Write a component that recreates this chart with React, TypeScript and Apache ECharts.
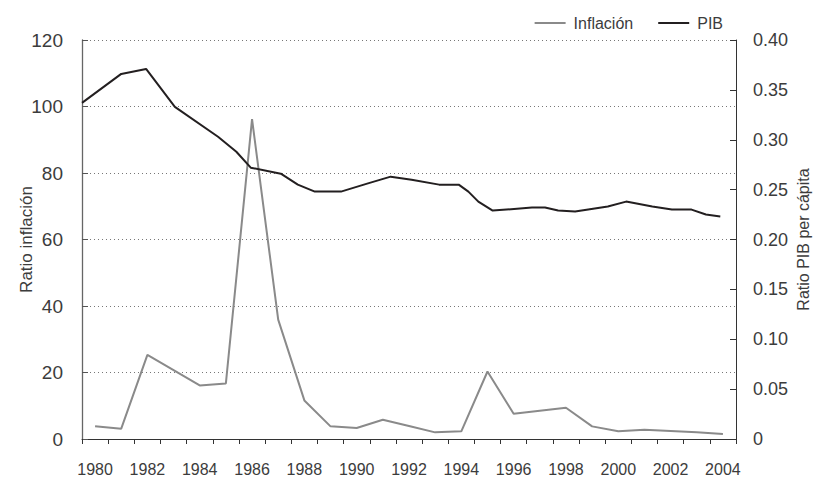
import React, { useEffect, useRef } from "react";
import * as echarts from "echarts";

const years: string[] = [
  "1980","1981","1982","1983","1984","1985","1986","1987","1988","1989",
  "1990","1991","1992","1993","1994","1995","1996","1997","1998","1999",
  "2000","2001","2002","2003","2004",
];

const inflacion: number[] = [
  3.8, 3.1, 25.3, 20.7, 16.1, 16.7, 96.2, 35.9, 11.6, 3.8,
  3.3, 5.8, 3.9, 2.0, 2.3, 20.3, 7.6, 8.5, 9.4, 3.8,
  2.3, 2.8, 2.4, 2.0, 1.5,
];

const pibYears: number[] = [
  1979.5, 1981.0, 1981.95, 1983.05, 1984.7, 1985.4, 1985.95, 1987.1, 1987.75, 1988.4,
  1989.4, 1990.4, 1991.3, 1992.1, 1993.15, 1993.9, 1994.27, 1994.65, 1995.2, 1996.7,
  1997.2, 1997.7, 1998.35, 1999.6, 2000.3, 2001.3, 2002.05, 2002.8, 2003.35, 2003.9,
];

const pib: number[] = [
  0.337, 0.366, 0.371, 0.333, 0.303, 0.288, 0.272, 0.266, 0.255, 0.248,
  0.248, 0.256, 0.263, 0.260, 0.255, 0.255, 0.248, 0.238, 0.229, 0.232,
  0.232, 0.229, 0.228, 0.233, 0.238, 0.233, 0.230, 0.230, 0.225, 0.223,
];

const leftTicks = { min: 0, max: 120, interval: 20 };
const rightTicks = { min: 0, max: 0.4, interval: 0.05 };

const FONT = "'Liberation Sans', Arial, sans-serif";
const NARROW = "'Liberation Sans Narrow', 'Liberation Sans', sans-serif";
const TXT = "#3c3c3c";

export default function App() {
  const ref = useRef<HTMLDivElement>(null);
  useEffect(() => {
    if (!ref.current) return;
    const chart = echarts.init(ref.current, undefined, { renderer: "svg" });
    chart.setOption({
      animation: false,
      backgroundColor: "#ffffff",
      textStyle: { fontFamily: FONT },
      legend: {
        top: 10,
        right: 93,
        icon: "rect",
        itemWidth: 31,
        itemHeight: 2,
        itemGap: 25,
        textStyle: { fontSize: 16, color: TXT, fontFamily: FONT, padding: [0, 0, 0, 3] },
        data: ["Inflación", "PIB"],
      },
      grid: { left: 82, right: 85, top: 40, bottom: 40, outerBoundsMode: "none", containLabel: false },
      xAxis: [
        {
          type: "category",
          data: years,
          boundaryGap: true,
          axisLine: { lineStyle: { color: "#333", width: 1 } },
          axisTick: { show: true, inside: false, length: 5, interval: 0, lineStyle: { color: "#333" } },
          axisLabel: { interval: 1, margin: 22, fontSize: 16, color: TXT, fontFamily: FONT },
          splitLine: { show: false },
        },
        {
          type: "value",
          min: 1979.5,
          max: 2004.5,
          show: false,
          splitLine: { show: false },
        },
      ],
      yAxis: [
        {
          type: "value",
          ...leftTicks,
          name: "Ratio inflación",
          nameLocation: "middle",
          nameRotate: 90,
          nameGap: 47,
          nameMoveOverlap: false,
          nameTextStyle: { fontSize: 17, color: TXT, fontFamily: FONT },
          axisLine: { show: true, lineStyle: { color: "#666", width: 1.3 } },
          axisTick: { show: true, inside: true, length: 6, lineStyle: { color: "#555" } },
          axisLabel: { margin: 19, fontSize: 19, color: TXT, fontFamily: NARROW },
          splitLine: { show: true, lineStyle: { type: [1, 3], color: "#777", width: 1 } },
        },
        {
          type: "value",
          ...rightTicks,
          position: "right",
          name: "Ratio PIB per cápita",
          nameLocation: "middle",
          nameRotate: 90,
          nameGap: 59,
          nameMoveOverlap: false,
          nameTextStyle: { fontSize: 16, color: TXT, fontFamily: FONT },
          axisLine: { show: true, lineStyle: { color: "#333", width: 1 } },
          axisTick: { show: true, inside: true, length: 6, lineStyle: { color: "#333" } },
          axisLabel: {
            margin: 17,
            fontSize: 18,
            color: TXT,
            fontFamily: FONT,
            formatter: (v: number) => (v === 0 ? "0" : v.toFixed(2)),
          },
          splitLine: { show: false },
        },
      ],
      series: [
        {
          name: "Inflación",
          type: "line",
          xAxisIndex: 0,
          yAxisIndex: 0,
          data: inflacion,
          symbol: "none",
          lineStyle: { color: "#8a8a8a", width: 2 },
          itemStyle: { color: "#8a8a8a" },
        },
        {
          name: "PIB",
          type: "line",
          xAxisIndex: 1,
          yAxisIndex: 1,
          data: pibYears.map((y, i) => [y, pib[i]]),
          symbol: "none",
          lineStyle: { color: "#231f20", width: 2 },
          itemStyle: { color: "#231f20" },
        },
      ],
    });
    return () => chart.dispose();
  }, []);
  return (
    <div
      ref={ref}
      style={{ position: "fixed", left: 0, top: 0, width: 821, height: 479 }}
    />
  );
}
